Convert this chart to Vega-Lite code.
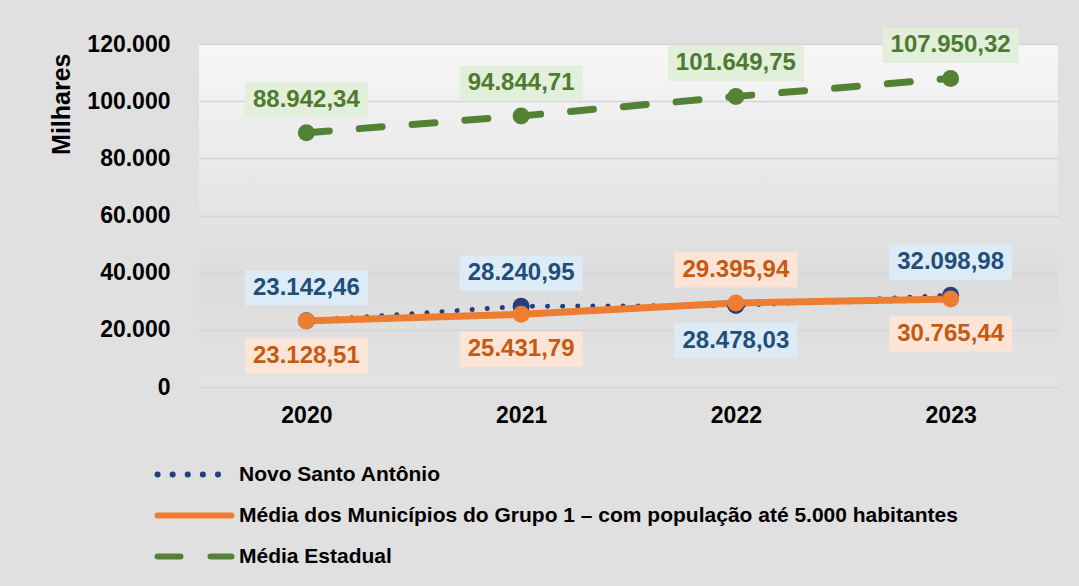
{
  "$schema": "https://vega.github.io/schema/vega-lite/v6.json",
  "autosize": {"type": "none"},
  "width": 859,
  "height": 343,
  "padding": {"left": 199, "top": 44, "right": 21, "bottom": 199},
  "background": "#e0e0e0",
  "data": {
    "values": [
      {"year": "2020", "series": "Novo Santo Antônio", "value": 23142.46},
      {"year": "2021", "series": "Novo Santo Antônio", "value": 28240.95},
      {"year": "2022", "series": "Novo Santo Antônio", "value": 28478.03},
      {"year": "2023", "series": "Novo Santo Antônio", "value": 32098.98},
      {"year": "2020", "series": "Média dos Municípios  do Grupo 1 – com população até 5.000 habitantes", "value": 23128.51},
      {"year": "2021", "series": "Média dos Municípios  do Grupo 1 – com população até 5.000 habitantes", "value": 25431.79},
      {"year": "2022", "series": "Média dos Municípios  do Grupo 1 – com população até 5.000 habitantes", "value": 29395.94},
      {"year": "2023", "series": "Média dos Municípios  do Grupo 1 – com população até 5.000 habitantes", "value": 30765.44},
      {"year": "2020", "series": "Média Estadual", "value": 88942.34},
      {"year": "2021", "series": "Média Estadual", "value": 94844.71},
      {"year": "2022", "series": "Média Estadual", "value": 101649.75},
      {"year": "2023", "series": "Média Estadual", "value": 107950.32}
    ]
  },
  "encoding": {
    "x": {
      "field": "year", "type": "ordinal",
      "scale": {"type": "point", "padding": 0.5},
      "axis": {"title": null, "labelAngle": 0, "labelFontSize": 23, "labelFontWeight": "bold", "labelColor": "#000000", "labelPadding": 17, "domain": false, "ticks": false, "grid": false}
    },
    "y": {
      "field": "value", "type": "quantitative",
      "scale": {"domain": [0, 120000], "nice": false, "zero": true},
      "axis": {"title": "Milhares", "values": [0, 20000, 40000, 60000, 80000, 100000, 120000], "format": ",.0f",
        "labelFontSize": 23, "labelFontWeight": "bold", "labelColor": "#000000", "labelPadding": 29,
        "domain": false, "ticks": false, "gridColor": "#d4d4d4", "gridWidth": 1.5,
        "titleFontSize": 25, "titleFontWeight": "bold", "titleColor": "#000000", "titleAnchor": "end", "titleY": 9, "titlePadding": 12}
    }
  },
  "layer": [
    {
      "mark": {"type": "line", "strokeCap": "round", "strokeJoin": "round"},
      "encoding": {
        "color": {
          "field": "series", "type": "nominal",
          "scale": {"domain": ["Novo Santo Antônio", "Média dos Municípios  do Grupo 1 – com população até 5.000 habitantes", "Média Estadual"], "range": ["#24407a", "#ED7D31", "#548235"]},
          "legend": {
            "title": null, "orient": "none", "legendX": -17, "legendY": 418,
            "symbolType": "M-4,0H4", "symbolSize": 342, "symbolStrokeWidth": 6, "symbolFillColor": "transparent",
            "labelFontSize": 21, "labelFontWeight": "bold", "labelColor": "#000000", "labelLimit": 1000, "labelOffset": 32,
            "rowPadding": 16,
            "encode": {"symbols": {"update": {"strokeCap": {"value": "round"}, "fill": {"value": "transparent"}}}}
          }
        },
        "strokeDash": {
          "field": "series", "type": "nominal",
          "scale": {"domain": ["Novo Santo Antônio", "Média dos Municípios  do Grupo 1 – com população até 5.000 habitantes", "Média Estadual"], "range": [[0.1, 15], [1, 0], [23, 30]]},
          "legend": {
            "title": null, "orient": "none", "legendX": -17, "legendY": 418,
            "symbolType": "M-4,0H4", "symbolSize": 342, "symbolStrokeWidth": 6, "symbolFillColor": "transparent",
            "labelFontSize": 21, "labelFontWeight": "bold", "labelColor": "#000000", "labelLimit": 1000, "labelOffset": 32,
            "rowPadding": 16,
            "encode": {"symbols": {"update": {"strokeCap": {"value": "round"}, "fill": {"value": "transparent"}}}}
          }
        },
        "strokeWidth": {"condition": {"test": "datum.series === 'Novo Santo Antônio'", "value": 5}, "value": 7}
      }
    },
    {
      "mark": {"type": "point", "filled": true, "opacity": 1, "size": 289},
      "encoding": {
        "color": {"field": "series", "type": "nominal"}
      }
    },
    {
      "transform": [{"filter": "datum.series === 'Média Estadual' || (datum.series === 'Novo Santo Antônio' && datum.year !== '2022') || (datum.series !== 'Novo Santo Antônio' && datum.series !== 'Média Estadual' && datum.year === '2022')"}],
      "layer": [
        {
          "mark": {"type": "point", "filled": true, "opacity": 1, "yOffset": -33, "strokeWidth": 0},
          "encoding": {
            "shape": {"condition": {"test": "datum.value >= 100000", "value": "M-1,-0.26H1V0.26H-1Z"}, "value": "M-1,-0.285H1V0.285H-1Z"},
            "size": {"condition": {"test": "datum.value >= 100000", "value": 18496}, "value": 15129},
            "color": {"condition": [{"test": "datum.series === 'Média Estadual'", "value": "#E2EFDA"}, {"test": "datum.series === 'Novo Santo Antônio'", "value": "#DDEBF7"}], "value": "#FCE4D6"}
          }
        },
        {
          "mark": {"type": "text", "dy": -33, "baseline": "middle", "fontSize": 24, "fontWeight": "bold"},
          "encoding": {
            "text": {"field": "value", "type": "quantitative", "format": ",.2f"},
            "color": {"condition": [{"test": "datum.series === 'Média Estadual'", "value": "#4F7A31"}, {"test": "datum.series === 'Novo Santo Antônio'", "value": "#1F4E79"}], "value": "#C55A11"}
          }
        }
      ]
    },
    {
      "transform": [{"filter": "!(datum.series === 'Média Estadual' || (datum.series === 'Novo Santo Antônio' && datum.year !== '2022') || (datum.series !== 'Novo Santo Antônio' && datum.series !== 'Média Estadual' && datum.year === '2022'))"}],
      "layer": [
        {
          "mark": {"type": "point", "filled": true, "opacity": 1, "yOffset": 35, "strokeWidth": 0},
          "encoding": {
            "shape": {"value": "M-1,-0.285H1V0.285H-1Z"},
            "size": {"value": 15129},
            "color": {"condition": [{"test": "datum.series === 'Novo Santo Antônio'", "value": "#DDEBF7"}], "value": "#FCE4D6"}
          }
        },
        {
          "mark": {"type": "text", "dy": 35, "baseline": "middle", "fontSize": 24, "fontWeight": "bold"},
          "encoding": {
            "text": {"field": "value", "type": "quantitative", "format": ",.2f"},
            "color": {"condition": [{"test": "datum.series === 'Novo Santo Antônio'", "value": "#1F4E79"}], "value": "#C55A11"}
          }
        }
      ]
    }
  ],
  "config": {
    "font": "Liberation Sans",
    "locale": {"number": {"decimal": ",", "thousands": ".", "grouping": [3], "currency": ["R$", ""]}},
    "view": {"stroke": null, "fill": {"gradient": "linear", "x1": 0, "y1": 0, "x2": 0, "y2": 1, "stops": [{"offset": 0, "color": "#f7f7f7"}, {"offset": 0.7, "color": "#dcdcdc"}, {"offset": 1, "color": "#e3e3e3"}]}}
  }
}
